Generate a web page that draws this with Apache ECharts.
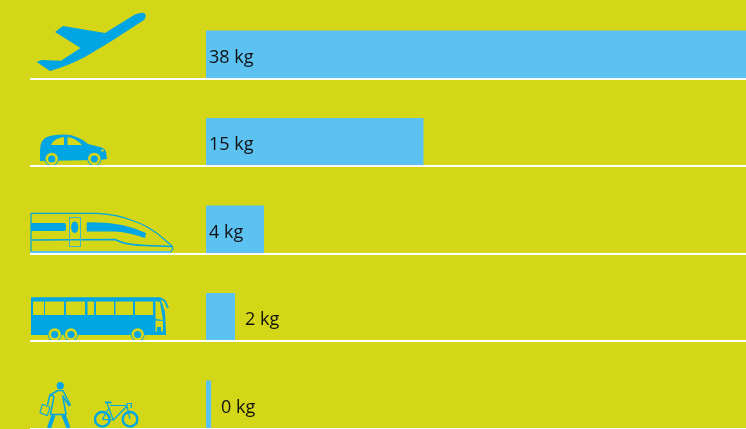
<!DOCTYPE html>
<html>
<head>
<meta charset="utf-8">
<style>html,body{margin:0;padding:0;background:#d3d718}#c{width:746px;height:429px}</style>
<script src="https://cdn.jsdelivr.net/npm/echarts@6/dist/echarts.min.js"></script>
</head>
<body>
<div id="c"></div>
<script>
var modes = ['plane', 'car', 'train', 'bus', 'walk/bike'];
var kg = [38, 15, 4, 2, 0.35];
var labels = ['38 kg', '15 kg', '4 kg', '2 kg', '0 kg'];

var BG = '#d3d718', BAR = '#5cc2f2', ICON = '#00a5e3';

function fill(d, c) {
    return { type: 'path', shape: { pathData: d }, style: { fill: c || ICON } };
}
function line(d, w, c) {
    return { type: 'path', shape: { pathData: d }, style: { fill: 'none', stroke: c || ICON, lineWidth: w, lineJoin: 'round' } };
}
function dot(x, y, r, c) {
    return { type: 'circle', shape: { cx: x, cy: y, r: r }, style: { fill: c } };
}
function wheel(x, y) {
    return [dot(x, y, 7, ICON), dot(x, y, 6.2, BG), dot(x, y, 3.6, ICON)];
}

var icons = [];
// plane
icons.push(fill('M36.7 62 L41.5 60 L61 60.7 L80.5 48 L55 32 L63 26 L105 33 L135 14.5 Q141 12 144 13 Q147.5 15 144 20 L110 42 L85 57 Q70 65 50 71 Z'));
// car
icons.push(fill('M40 161 L40 150 Q40 140 47 137 Q52 134.5 65 134.5 Q78 135 88 144 L100 147 Q105 148 106 152 L107 159 L100 160 L40 161 Z'));
icons.push(fill('M51 145 Q54 138 64 137 L64 145 Z', BG), fill('M67.5 137 Q75 137.5 82 145 L67.5 145 Z', BG), dot(102.5, 150.5, 1.2, BG));
icons = icons.concat(wheel(51.7, 159), wheel(94.3, 159));
// train
icons.push(line('M31 252 L31 213.3 L97 213.3 Q120 215 131 220 Q150 226 165 240 L172 246 Q174 250 170 252 Z', 1.2));
icons.push(line('M31 240 L115 239.5 Q125 245 145 245.5 L172 246.5', 1.6));
icons.push(line('M69.5 217.5 H80.5 V246.5 H69.5 Z', 1, '#3fb4cf'));
icons.push(line('M31 252 H170', 1.8, BAR));
icons.push(fill('M31 223 H64 Q66 223 66 225 V229 Q66 231 64 231 H31 Z'));
icons.push(fill('M86.7 222.5 Q120 221 146 233 L145 238 Q125 231 113 231.5 H86.7 Z'));
icons.push(fill('M74.7 221.5 C79.5 221.5 79.5 233 74.7 233 C69.9 233 69.9 221.5 74.7 221.5 Z'));
// bus
icons.push(fill('M31 297.3 H160 L165 312 L166 335 H31 Z'));
[[33, 44], [45, 64], [66, 85], [87.5, 94], [96, 114], [115.5, 133], [135, 153]].forEach(function (w) {
    icons.push(fill('M' + w[0] + ' 301.5 H' + w[1] + ' V315 H' + w[0] + ' Z', BG));
});
icons.push(fill('M155.5 301 L160 302 L163 320 L155.5 319 Z', BG));
icons.push(fill('M155.5 320.5 L163 321 L163 331.5 L155.5 331.5 Z', BG), fill('M157 327 H161 V333 H157 Z'));
icons.push(line('M160 298 L165 301 L168 308', 1.8));
icons = icons.concat(wheel(54.7, 334.5), wheel(71, 334.5), wheel(137.7, 334.5));
// walker
icons.push(dot(60.3, 385.7, 3.6, ICON));
icons.push(line('M42.3 404.3 L50 407.3 L47.3 415.7 L40 412.7 Z', 1.1));
icons.push(line('M58 390.5 L50 395 L47.5 405 M54 396 L50.5 414.5 H66 L62.7 396 L69.5 406 M63 390.5 L70.5 405.5 M58 390.5 H63 M50 395 L54 396', 1.5));
icons.push(line('M53.5 415 L49 428 M63.5 415 L68.5 428', 4));
// bike
icons.push({ type: 'circle', shape: { cx: 102.3, cy: 419.3, r: 7.3 }, style: { fill: 'none', stroke: ICON, lineWidth: 2.4 } });
icons.push({ type: 'circle', shape: { cx: 130, cy: 419.3, r: 7.3 }, style: { fill: 'none', stroke: ICON, lineWidth: 2.4 } });
icons.push(line('M107.3 404 L113.3 420 L127 406 L130 419 M110 405.5 H127.3 M102.3 419.3 L108.5 409 M102.3 419.3 L113.3 420 M127.3 405 L127 403.5 H131.5 L131 408', 1.2));
icons.push(line('M105 402.5 H111.5', 2));

var chart = echarts.init(document.getElementById('c'));
chart.setOption({
    backgroundColor: BG,
    animation: false,
    textStyle: { fontFamily: 'Open Sans' },
    grid: [
        { left: 206, right: 0, top: 10.75, height: 437.5, outerBoundsMode: 'none' },
        { left: 30, right: 0, top: -9, height: 437.5, outerBoundsMode: 'none' }
    ],
    xAxis: [
        { type: 'value', gridIndex: 0, min: 0, max: 37.24, show: false },
        { type: 'value', gridIndex: 1, min: 0, max: 1, show: false }
    ],
    yAxis: [
        { type: 'category', gridIndex: 0, data: modes, inverse: true, axisLine: { show: false }, axisTick: { show: false }, axisLabel: { show: false }, splitLine: { show: false } },
        // white baselines
        {
            type: 'category', gridIndex: 1, data: modes, inverse: true, z: 5,
            axisLine: { show: false }, axisTick: { show: false }, axisLabel: { show: false },
            splitLine: { show: true, lineStyle: { color: '#fff', width: 2 } }
        }
    ],
    series: [{
        type: 'bar',
        xAxisIndex: 0,
        yAxisIndex: 0,
        barWidth: 48,
        itemStyle: { color: BAR },
        data: kg.map(function (v, i) {
            var outside = v < 3;
            return {
                value: v,
                label: {
                    show: true,
                    position: outside ? 'right' : 'insideLeft',
                    distance: outside ? 10 : 3,
                    offset: [0, 3],
                    formatter: labels[i],
                    color: '#111',
                    fontSize: 18,
                    fontWeight: 500,
                    fontFamily: 'Open Sans'
                }
            };
        })
    }, {
        // transport icons
        type: 'custom',
        coordinateSystem: 'none',
        silent: true,
        data: [0],
        renderItem: function () {
            return { type: 'group', children: icons };
        }
    }]
});
</script>
</body>
</html>
